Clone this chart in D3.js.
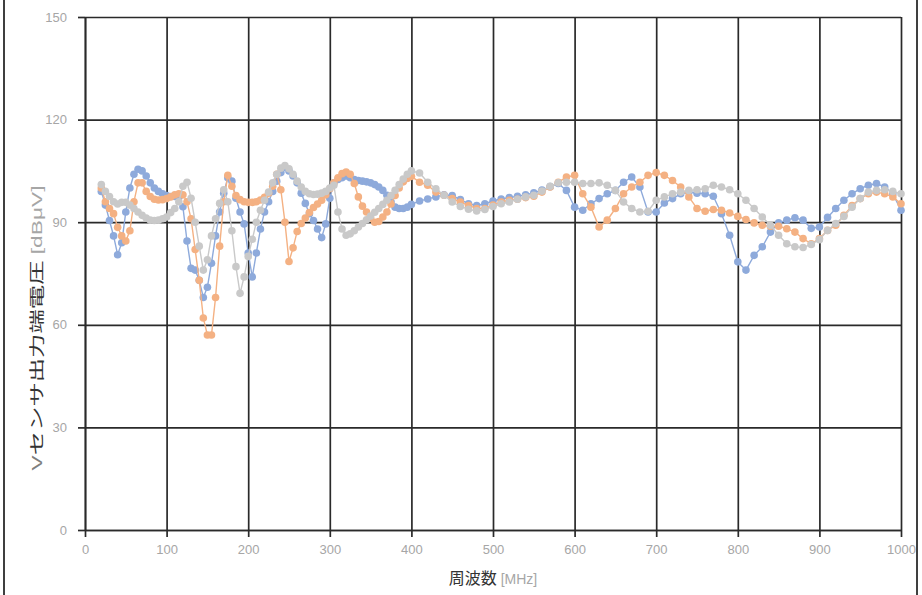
<!DOCTYPE html>
<html>
<head>
<meta charset="utf-8">
<script src="https://cdn.jsdelivr.net/npm/d3@7"></script>
<style>
html,body{margin:0;padding:0;background:#fff;}
svg{display:block;}
</style>
</head>
<body>
<svg id="chart" width="922" height="595"></svg>
<script>
// ---- data ----
const freq = [20,25,30,35,40,45,50,55,60,65,70,75,80,85,90,95,100,105,110,115,120,125,130,135,140,145,150,155,160,165,170,175,180,185,190,195,200,205,210,215,220,225,230,235,240,245,250,255,260,265,270,275,280,285,290,295,300,305,310,315,320,325,330,335,340,345,350,355,360,365,370,375,380,385,390,395,400,
410,420,430,440,450,460,470,480,490,500,510,520,530,540,550,560,570,580,590,600,610,620,630,640,650,660,670,680,690,700,710,720,730,740,750,760,770,780,790,800,810,820,830,840,850,860,870,880,890,900,910,920,930,940,950,960,970,980,990,1000];

const seriesBlue = [99,95,90.5,86,80.5,84,93,100,104,105.5,
105,103.5,101.5,100,99,98.3,97.8,97.5,97.5,97.3,
94.5,84.5,76.5,76,73,68,71,78,86,93,
98.5,103,102,97,93,89.5,81,74,81,88,
93,96,99,102,104.5,106,105,103.5,101.5,98.5,
95.5,92.5,90.5,88,85.5,89.5,97,101.5,102.5,103,
103.5,103,102.5,102.2,102,101.8,101.5,101,100.3,99.3,
97.9,96,94.4,94,94,94.4,95.2,
96.2,96.8,97.4,98,97.8,96.6,95.4,94.9,95.4,96.2,
96.8,97.2,97.6,98,98.6,99.4,100.4,101.3,99.3,94.4,
93.5,95.4,96.9,98.3,99.3,101.7,103.2,100.3,93,93,
95.6,96.9,98.3,98.8,98.5,98.3,97.6,92.5,86.2,78.4,
76,80.3,82.8,87.1,89.8,90.6,91.3,90.6,88.2,88.6,
91.4,94,96.4,98.3,99.8,100.8,101.3,100.3,98.3,93.5];

const seriesOrange = [100,96,94,92.5,88.5,86,84.5,87.5,96,101.5,
101.5,99,97.5,96.7,96.5,96.6,96.9,97.4,98,98.3,
98,96,91,82,73,62,57,57,68,83,
96,103.7,100.5,97.8,96.6,96,95.8,95.8,96,96.5,
97.3,98.5,100.5,104,99.5,90,78.5,82.5,87.3,89.6,
91.2,92.8,94.3,95.3,96.4,98,99.8,101.5,103,104.2,
104.7,104,101.3,97.4,94.7,93,91.2,90,90.2,91.5,
93,95.3,97.8,100,101.8,102.8,103.4,
101.7,100.8,98.8,97.9,96.9,95.9,94.9,94,94,95,
95.9,96.4,96.7,97.2,97.6,98.8,100.3,101.7,103.2,103.7,
98.3,94.4,88.6,90.6,94,98.3,100.3,101.7,103.7,104.5,
103.7,102.2,100.3,97.4,94,93.2,93.7,93.5,92.7,91.7,
90.8,89.8,89.1,88.8,88.8,88.1,87.1,85.2,83.7,85.2,
87.6,89.1,92,94.9,96.9,98.3,98.8,98.3,97.4,95.4];

const seriesGray = [101,99,97.5,96,95.3,95.8,95.8,95,94,93,
92,91.2,90.6,90.5,90.6,91,91.5,92.8,94,96,
100.5,101.7,97,90,83,76,79,86,91,95.5,
99.5,96,87.5,77,69.2,74,80,85,90,93.5,
96.4,98.8,101.5,104,105.8,106.6,105.6,104,102,100.3,
99,98.3,98.1,98.2,98.5,99,100,100.8,93,88,
86.2,86.6,87.5,88.6,89.6,90.7,91.8,92.9,94,95.2,
96.4,97.8,99.3,101,102.6,104,105,
104.4,101.7,99.8,97.9,95.9,94.6,93.8,93.3,93.7,94.6,
95.4,95.9,96.7,97.4,97.9,99.1,100.5,101.5,101.7,101.7,
101.3,101.3,101.5,100.8,99.3,95.9,94,93,93.2,96.4,
97.4,98.3,98.8,99.3,99.5,99.8,100.8,100.3,99.5,98.3,
96.4,94,91.5,89.1,86.2,83.7,82.8,82.6,83.5,84.9,
87.6,89.6,91.7,94.4,96.9,98.8,99.3,99.5,99,98.3];

const xTicks = [0,100,200,300,400,500,600,700,800,900,1000];
const yTicks = [0,30,60,90,120,150];
const xTitle = "周波数";
const xUnit = "[MHz]";
const yTitleV = "V";
const yTitle = "センサ出力端電圧";
const yUnit = "[dBμV]";

// ---- layout ----
const svg = d3.select("#chart");
const L = 85, R = 901, T = 17, B = 530;
const x = d3.scaleLinear().domain([0,1000]).range([L,R]);
const y = d3.scaleLinear().domain([0,150]).range([B,T]);

// outer frame
svg.append("rect").attr("x",4).attr("y",-3).attr("width",913).attr("height",602)
  .attr("fill","none").attr("stroke","#000").attr("stroke-width",1.5);

const gridColor = "#2a2a2a";
const gridW = 1.7;
// grid
const gx = svg.append("g").attr("transform",`translate(0,${B})`)
  .call(d3.axisBottom(x).tickValues(xTicks).tickSize(-(B-T)).tickSizeOuter(0).tickFormat(""));
const gy = svg.append("g").attr("transform",`translate(${L},0)`)
  .call(d3.axisLeft(y).tickValues(yTicks).tickSize(-(R-L)).tickSizeOuter(0).tickFormat(""));
[gx,gy].forEach(g=>{
  g.selectAll("line").attr("stroke",gridColor).attr("stroke-width",gridW);
  g.select(".domain").attr("stroke",gridColor).attr("stroke-width",gridW);
});

// tick marks + labels
const tickFont = "'Liberation Sans', Arial, sans-serif";
const ax = svg.append("g").attr("transform",`translate(0,${B})`)
  .call(d3.axisBottom(x).tickValues(xTicks).tickSize(7).tickSizeOuter(0).tickPadding(8).tickFormat(d3.format("d")));
const ay = svg.append("g").attr("transform",`translate(${L},0)`)
  .call(d3.axisLeft(y).tickValues(yTicks).tickSize(7).tickSizeOuter(0).tickPadding(11).tickFormat(d3.format("d")));
[ax,ay].forEach(g=>{
  g.select(".domain").remove();
  g.selectAll("line").attr("stroke",gridColor).attr("stroke-width",gridW);
  g.selectAll("text").attr("fill","#a6a6a6").style("font-family",tickFont).style("font-size","13px");
});

// series
const series = [
  {name:"blue", values:seriesBlue, color:"#8eaadb"},
  {name:"orange", values:seriesOrange, color:"#f4b183"},
  {name:"gray", values:seriesGray, color:"#c9c9c9"}
];
const line = d3.line().x(d=>x(d[0])).y(d=>y(d[1]));
series.forEach(s=>{
  const pts = freq.map((f,i)=>[f,s.values[i]]);
  const g = svg.append("g");
  g.append("path").datum(pts).attr("d",line).attr("fill","none")
    .attr("stroke",s.color).attr("stroke-width",1.4);
  g.selectAll("circle").data(pts).join("circle")
    .attr("cx",d=>x(d[0])).attr("cy",d=>y(d[1])).attr("r",3.8)
    .attr("fill",s.color);
});

// x title
const xt = svg.append("text").attr("x",(L+R)/2).attr("y",584).attr("text-anchor","middle");
xt.append("tspan").text(xTitle).attr("fill","#333")
  .style("font-family","'Noto Sans CJK JP', sans-serif").style("font-size","16px");
xt.append("tspan").text(" "+xUnit).attr("fill","#a6a6a6")
  .style("font-family",tickFont).style("font-size","14px");

// y title
const yt = svg.append("text").attr("transform","translate(42,328) rotate(-90)")
  .attr("text-anchor","middle").attr("textLength",285).attr("lengthAdjust","spacingAndGlyphs");
yt.append("tspan").text(yTitleV).attr("fill","#7f7f7f")
  .style("font-family",tickFont).style("font-size","14px");
yt.append("tspan").text(yTitle).attr("fill","#333")
  .style("font-family","'Noto Sans CJK JP', sans-serif").style("font-size","15px");
yt.append("tspan").text(" "+yUnit).attr("fill","#a6a6a6")
  .style("font-family",tickFont).style("font-size","14px");
</script>
</body>
</html>
